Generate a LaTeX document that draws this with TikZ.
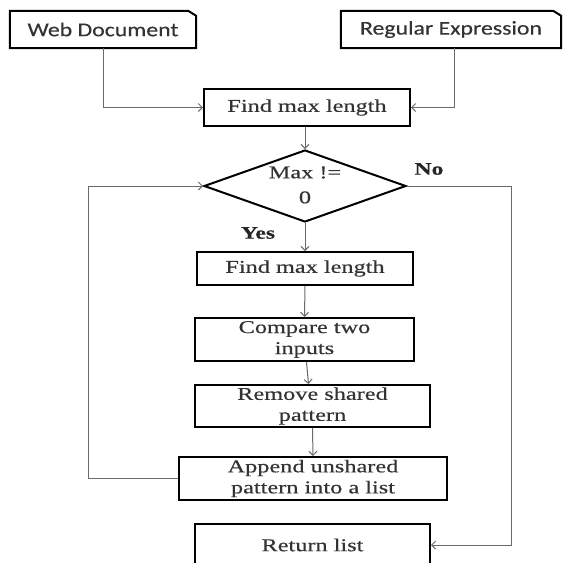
\documentclass[tikz,border=0pt]{standalone}
\usepackage{fontspec}
\setmainfont[FakeStretch=1.35,FakeBold=0.35]{Liberation Serif}
\newfontfamily\boxsans[FakeStretch=1.22,FakeBold=0.3]{Carlito}
\usetikzlibrary{arrows.meta,shapes.geometric}
\definecolor{connc}{HTML}{6A6A6A}
\definecolor{txtc}{HTML}{333333}
\begin{document}
\begin{tikzpicture}[x=1pt,y=-1pt,
  proc/.style={draw=black, line width=2pt, rectangle, inner sep=0pt, align=center,
    text=txtc, font=\fontsize{18}{21}\selectfont},
  inbox/.style={draw=none, rectangle, inner sep=0pt, text=txtc,
    font=\boxsans\fontsize{19.5}{22}\selectfont},
  dogear/.style={draw=black, line width=2pt, line join=miter},
  decis/.style={draw=black, line width=2pt, diamond, aspect=2.8, inner sep=0pt},
  conn/.style={draw=connc, line width=1pt},
  arr/.style={conn, -{Straight Barb[length=4pt,width=8pt]}},
  lbl/.style={inner sep=0pt, font=\bfseries\fontsize{17.5}{20}\selectfont, text=black!85}
]
\clip (0,0) rectangle (563,563);
\fill[white] (0,0) rectangle (563,563);

% input boxes (dog-eared)
\node[inbox, minimum width=186pt, minimum height=37pt] (web) at (103,29.5) {Web Document};
\draw[dogear] (web.south west) -- (web.north west) -- ([xshift=-8pt]web.north east)
  -- ([yshift=-5pt]web.north east) -- (web.south east) -- cycle;
\node[inbox, minimum width=220pt, minimum height=37pt] (regex) at (451,29.5) {Regular Expression};
\draw[dogear] (regex.south west) -- (regex.north west) -- ([xshift=-8pt]regex.north east)
  -- ([yshift=-5pt]regex.north east) -- (regex.south east) -- cycle;

% process boxes
\node[proc, minimum width=206pt, minimum height=37pt] (find1) at (307,107.5) {Find max length};
\node[decis, minimum width=202pt, minimum height=72pt] (dec) at (305,186) {};
\node[inner sep=0pt, align=center, text=txtc, font=\fontsize{18}{25}\selectfont] (dectext) at (305,185) {Max !=\\0};
\node[proc, minimum width=216pt, minimum height=33pt] (find2) at (305,268.5) {Find max length};
\node[proc, minimum width=219pt, minimum height=43pt] (comp) at (304.5,339.5) {Compare two\\inputs};
\node[proc, minimum width=235pt, minimum height=42pt] (remove) at (312.5,406) {Remove shared\\pattern};
\node[proc, minimum width=268pt, minimum height=43pt] (append) at (313,478.5) {Append unshared\\pattern into a list};
\node[proc, minimum width=235pt, minimum height=42pt] (ret) at (312.5,545) {Return list};

% labels
\node[lbl] (no) at (429,169) {No};
\node[lbl] (yes) at (258,233) {Yes};

% connectors
\draw[arr] (web.south) |- (find1.west);
\draw[arr] ([xshift=3pt]regex.south) |- (find1.east);
\draw[arr] ([xshift=-2pt]find1.south) -- (dec.north);
\draw[arr] (dec.south) -- (find2.north);
\draw[arr] (find2.south) -- (comp.north);
\draw[arr] ([xshift=2pt]comp.south) -- ([xshift=-4pt]remove.north);
\draw[arr] (remove.south) -- (append.north);

\coordinate (lc) at (88,478.5);
\draw[arr] (append.west) -- (lc) |- (dec.west);
\coordinate (rc) at (511,186);
\draw[arr] (dec.east) -- (rc) |- (ret.east);
\end{tikzpicture}
\end{document}
